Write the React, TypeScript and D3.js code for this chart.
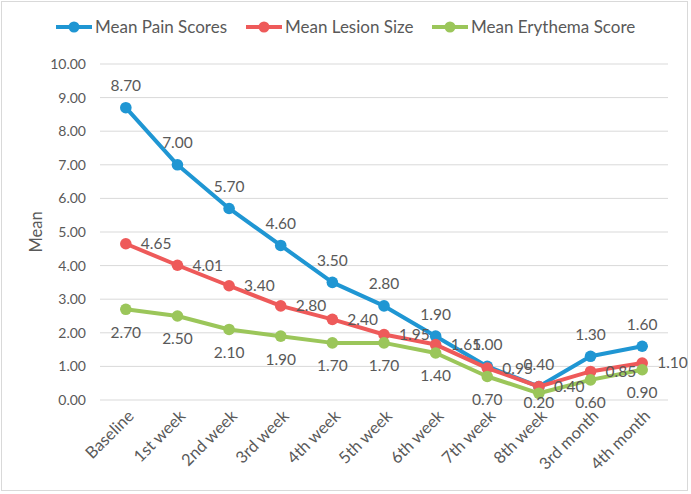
import React from "react";
import * as d3 from "d3";

const categories = ["Baseline", "1st week", "2nd week", "3rd week", "4th week", "5th week", "6th week", "7th week", "8th week", "3rd month", "4th month"];
const painScores = [8.7, 7.0, 5.7, 4.6, 3.5, 2.8, 1.9, 1.0, 0.4, 1.3, 1.6];
const lesionSize = [4.65, 4.01, 3.4, 2.8, 2.4, 1.95, 1.65, 0.95, 0.4, 0.85, 1.1];
const erythemaScore = [2.7, 2.5, 2.1, 1.9, 1.7, 1.7, 1.4, 0.7, 0.2, 0.6, 0.9];
const yTicks = [0, 1, 2, 3, 4, 5, 6, 7, 8, 9, 10];

const seriesNames = ["Mean Pain Scores", "Mean Lesion Size", "Mean Erythema Score"];
const seriesColors = ["#1f96d3", "#ee5a5a", "#9bc65a"];
const seriesData = [painScores, lesionSize, erythemaScore];
const labelPos = ["above", "right", "below"];

const W = 691;
const H = 494;
const FONT = "Lato, 'Open Sans', sans-serif";
const TXT = "#595959";

export default function App() {
  const x = d3.scaleBand<string>().domain(categories).range([100, 668]);
  const y = d3.scaleLinear().domain([0, 10]).range([400, 64]);
  const cx = (c: string) => (x(c) as number) + x.bandwidth() / 2;
  const line = d3
    .line<number>()
    .x((_, i) => cx(categories[i]))
    .y((d) => y(d));

  const legendX = [56, 246, 432];

  return (
    <svg width={W} height={H} style={{ position: "absolute", left: 0, top: 0, fontFamily: FONT }}>
      <rect x={0} y={0} width={W} height={H} fill="#fff" />
      <rect x={1.5} y={1.5} width={686} height={489} fill="none" stroke="#d9d9d9" strokeWidth={1} />

      {/* legend */}
      {seriesNames.map((n, i) => (
        <g key={n}>
          <line x1={legendX[i]} x2={legendX[i] + 36} y1={27} y2={27} stroke={seriesColors[i]} strokeWidth={4} />
          <circle cx={legendX[i] + 18} cy={27} r={5.5} fill={seriesColors[i]} />
          <text x={legendX[i] + 39} y={27} dy="0.35em" fontSize={17} fill={TXT}>
            {n}
          </text>
        </g>
      ))}

      {/* gridlines & y ticks */}
      {yTicks.map((t) => (
        <g key={t}>
          <line x1={100} x2={668} y1={y(t)} y2={y(t)} stroke="#d9d9d9" strokeWidth={1} />
          <text x={86} y={y(t)} dy="0.35em" textAnchor="end" fontSize={14} fill={TXT}>
            {t.toFixed(2)}
          </text>
        </g>
      ))}

      <text transform={`translate(36,${y(5)}) rotate(-90)`} textAnchor="middle" dy="0.35em" fontSize={16.5} fill={TXT}>
        Mean
      </text>

      {/* x labels */}
      {categories.map((c) => (
        <text
          key={c}
          transform={`translate(${cx(c) + 5},${413}) rotate(-45)`}
          textAnchor="end"
          dy="0.35em"
          fontSize={16.5}
          fill={TXT}
        >
          {c}
        </text>
      ))}

      {/* series */}
      {seriesData.map((data, si) => (
        <g key={si}>
          <path d={line(data) as string} fill="none" stroke={seriesColors[si]} strokeWidth={4} strokeLinejoin="round" />
          {data.map((v, i) => (
            <circle key={i} cx={cx(categories[i])} cy={y(v)} r={5.8} fill={seriesColors[si]} />
          ))}
        </g>
      ))}

      {/* data labels */}
      {seriesData.map((data, si) => (
        <g key={"l" + si}>
          {data.map((v, i) => {
            const px = cx(categories[i]);
            const py = y(v);
            const pos = labelPos[si];
            let tx = px;
            let ty = py;
            let anchor: "middle" | "start" = "middle";
            if (pos === "above") ty = py - 22;
            else if (pos === "below") ty = Math.min(py + 23, 403);
            else {
              tx = px + 15;
              anchor = "start";
            }
            return (
              <text key={i} x={tx} y={ty} dy="0.35em" textAnchor={anchor} fontSize={15.5} fill={TXT}>
                {v.toFixed(2)}
              </text>
            );
          })}
        </g>
      ))}
    </svg>
  );
}
